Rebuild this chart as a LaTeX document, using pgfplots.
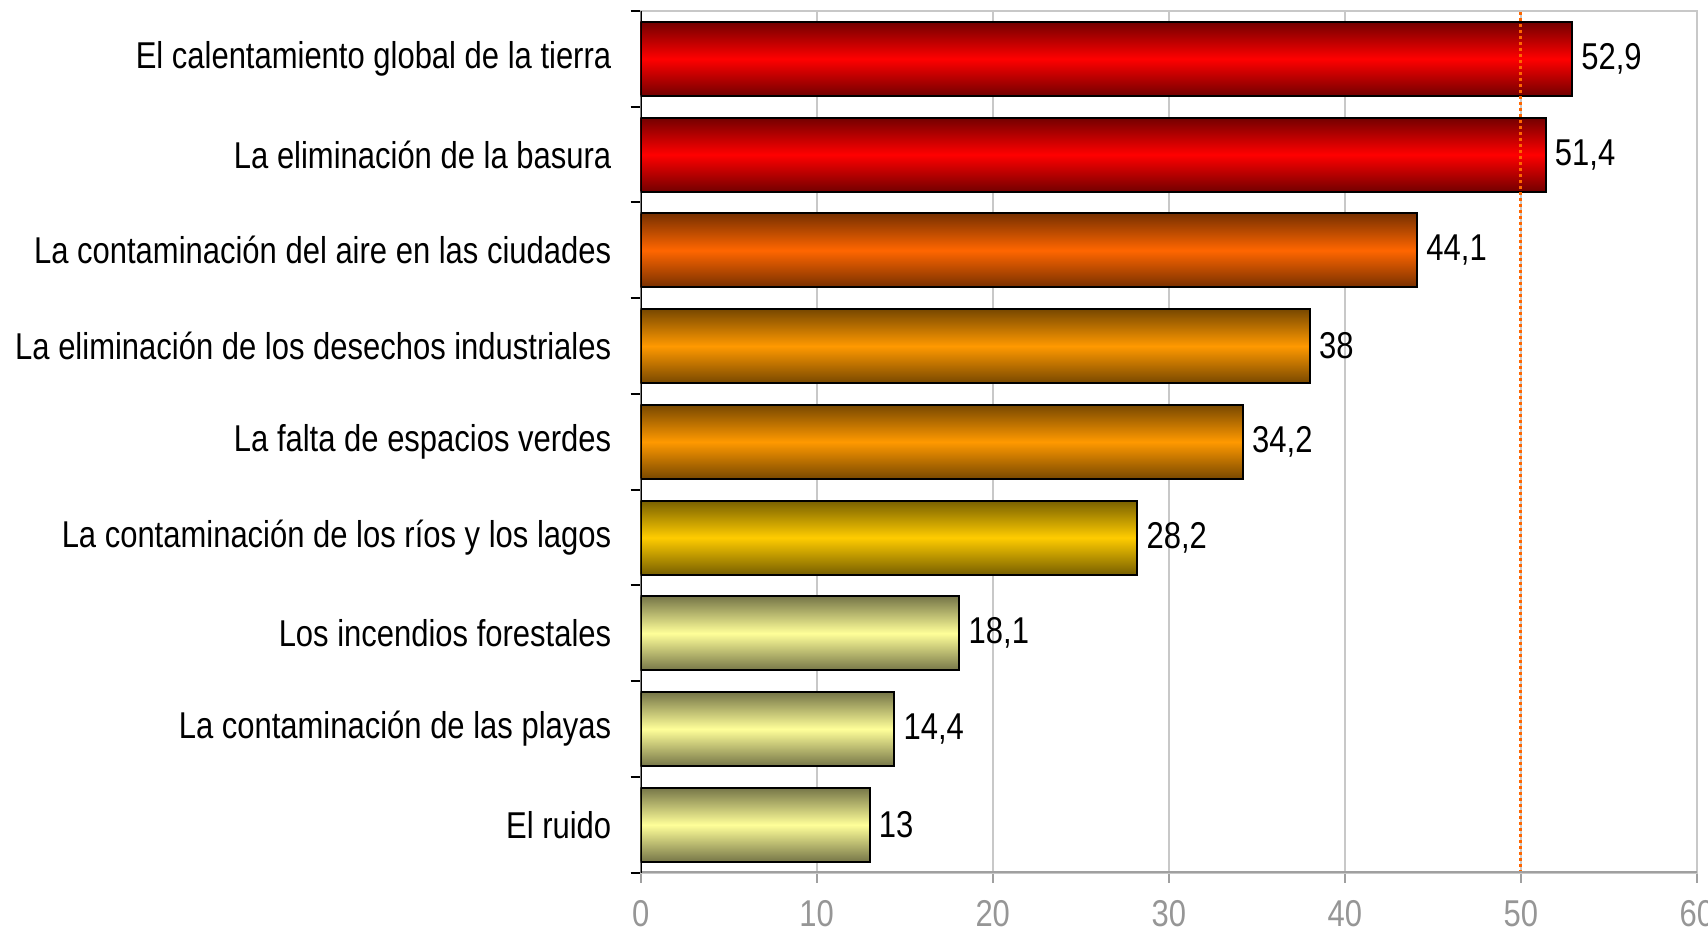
\documentclass[border=0pt]{standalone}
\usepackage{fontspec}
\setmainfont{Liberation Sans}[FakeStretch=0.83]
\usepackage{pgfplots}
\pgfplotsset{compat=1.18}
\definecolor{redM}{RGB}{255,0,0}
\definecolor{redE}{RGB}{115,0,0}
\definecolor{orM}{RGB}{255,102,0}
\definecolor{orE}{RGB}{120,48,0}
\definecolor{amM}{RGB}{255,153,0}
\definecolor{amE}{RGB}{120,72,0}
\definecolor{goM}{RGB}{255,204,0}
\definecolor{goE}{RGB}{120,96,0}
\definecolor{yeM}{RGB}{255,255,153}
\definecolor{yeE}{RGB}{118,118,72}
\definecolor{gridc}{RGB}{200,200,200}
\definecolor{axc}{RGB}{160,160,160}
\definecolor{tickl}{RGB}{150,150,150}
\definecolor{refl}{RGB}{255,102,0}
\pgfplotsset{
  redbar/.style={xbar, top color=redE, bottom color=redE, middle color=redM},
  orbar/.style={xbar, top color=orE, bottom color=orE, middle color=orM},
  ambar/.style={xbar, top color=amE, bottom color=amE, middle color=amM},
  gobar/.style={xbar, top color=goE, bottom color=goE, middle color=goM},
  yebar/.style={xbar, top color=yeE, bottom color=yeE, middle color=yeM},
}
\begin{document}
\begin{tikzpicture}
\useasboundingbox (-192.2pt,-18.1pt) rectangle (320.2pt,261.8pt);
\begin{axis}[
  at={(0pt,0pt)}, anchor=south west, scale only axis,
  width=316.9pt, height=258.5pt,
  xbar, bar width=0.773, bar shift=0pt,
  xmin=0, xmax=60, ymin=-0.5, ymax=8.5,
  axis line style={gridc, line width=0.6pt},
  xtick={0,10,...,60}, xtick pos=left, ytick pos=left,
  tick align=outside, major tick length=3pt,
  xmajorgrids, grid style={gridc, line width=0.6pt},
  xtick style={axc, line width=0.6pt},
  ytick={-0.5,0.5,...,8.5}, yticklabels={},
  ytick style={black, line width=0.6pt},
  xticklabel style={text=tickl, font=\fontsize{11.2}{13}\selectfont, yshift=-1.8pt},
  extra y ticks={0,1,2,3,4,5,6,7,8},
  extra y tick labels={El ruido, La contaminación de las playas, Los incendios forestales, La contaminación de los ríos y los lagos, La falta de espacios verdes, La eliminación de los desechos industriales, La contaminación del aire en las ciudades, La eliminación de la basura, El calentamiento global de la tierra},
  extra y tick style={major tick length=0pt, ymajorgrids=false, yticklabel style={font=\fontsize{11.2}{13}\selectfont, text=black, xshift=-5.3pt}},
  /pgf/number format/.cd, use comma, assume math mode=true, 1000 sep={},
  /pgfplots/.cd,
  nodes near coords,
  every node near coord/.append style={font=\fontsize{11.2}{13}\selectfont, text=black, anchor=west, xshift=-0.8pt},
  every axis plot/.append style={draw=black, line width=0.6pt},
]
\addplot[redbar] coordinates {(52.9,8)};
\addplot[redbar] coordinates {(51.4,7)};
\addplot[orbar] coordinates {(44.1,6)};
\addplot[ambar] coordinates {(38,5)};
\addplot[ambar] coordinates {(34.2,4)};
\addplot[gobar] coordinates {(28.2,3)};
\addplot[yebar] coordinates {(18.1,2)};
\addplot[yebar] coordinates {(14.4,1)};
\addplot[yebar] coordinates {(13,0)};
\addplot[refl, line width=0.9pt, dash pattern=on 0.9pt off 0.9pt, nodes near coords={}, mark=none, draw=refl, xbar=false, sharp plot] coordinates {(50,-0.5) (50,8.5)};
\draw[axc, line width=1pt] (axis cs:0,-0.5) -- (axis cs:60,-0.5);
\draw[black, line width=0.6pt] (axis cs:0,-0.5) -- (axis cs:0,8.5);
\end{axis}
\end{tikzpicture}
\end{document}
